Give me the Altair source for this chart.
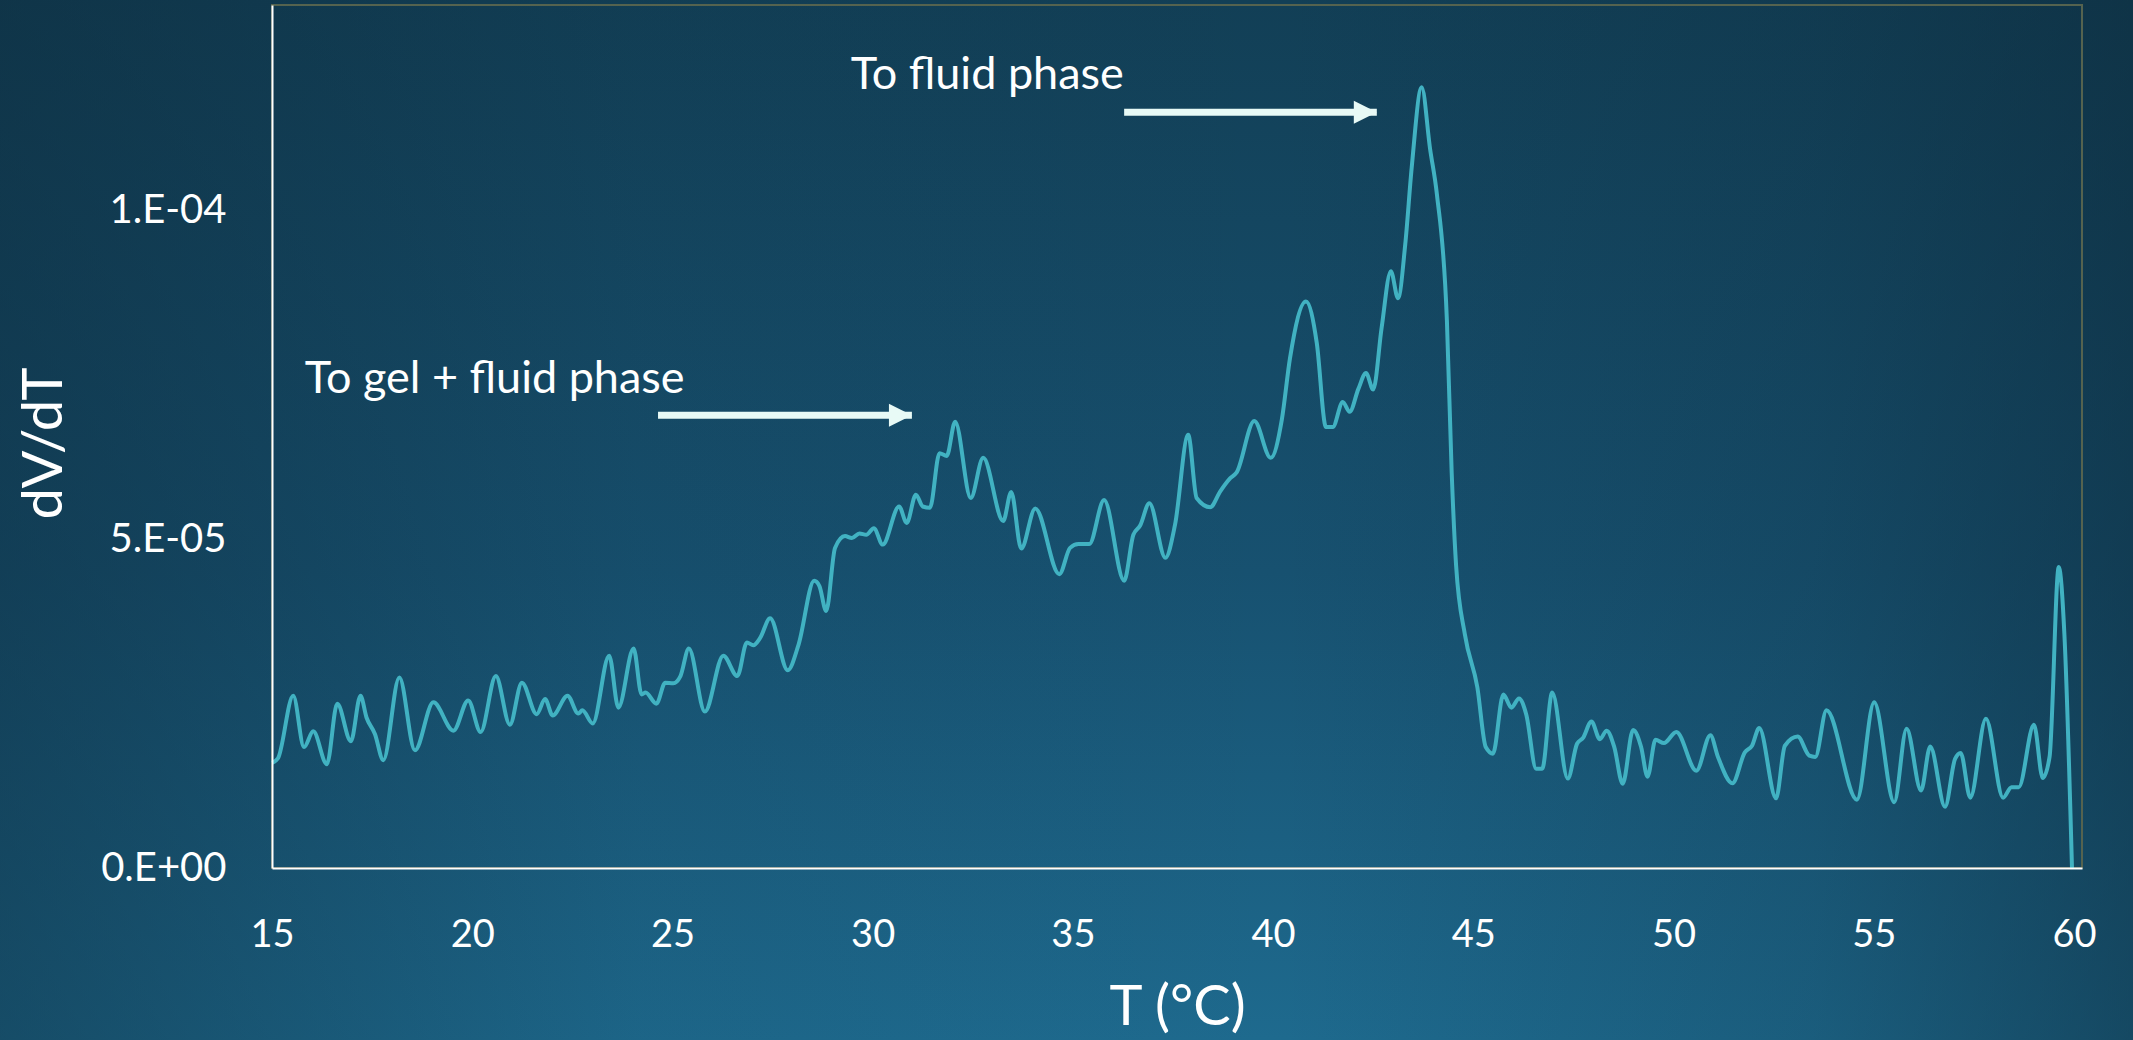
import altair as alt
import pandas as pd

# Temperature (°C) and dV/dT (in units of 1e-5)
temp_c = [
    15.0, 15.15, 15.53, 15.8, 16.03, 16.37, 16.63, 16.97, 17.21, 17.36, 17.57, 17.78,
    18.18, 18.57, 19.03, 19.53, 19.9, 20.21, 20.59, 20.94, 21.24, 21.61, 21.82, 22.01,
    22.38, 22.65, 22.75, 23.01, 23.42, 23.65, 24.03, 24.23, 24.33, 24.6, 24.82, 25.02,
    25.2, 25.41, 25.81, 26.27, 26.62, 26.86, 27.02, 27.19, 27.44, 27.88, 28.15, 28.54,
    28.67, 28.84, 29.06, 29.31, 29.48, 29.67, 29.84, 30.03, 30.25, 30.66, 30.85, 31.08,
    31.25, 31.43, 31.67, 31.85, 32.06, 32.45, 32.76, 33.26, 33.46, 33.71, 34.06, 34.66,
    34.93, 35.14, 35.41, 35.78, 36.28, 36.51, 36.68, 36.91, 37.31, 37.55, 37.88, 38.09,
    38.43, 38.68, 38.93, 39.09, 39.53, 39.94, 40.22, 40.42, 40.82, 41.09, 41.32, 41.49,
    41.74, 41.91, 42.13, 42.32, 42.5, 42.71, 42.94, 43.12, 43.3, 43.46, 43.71, 43.92,
    44.09, 44.34, 44.46, 44.57, 44.79, 45.1, 45.31, 45.49, 45.75, 45.95, 46.14, 46.32,
    46.57, 46.72, 46.97, 47.36, 47.59, 47.74, 47.95, 48.16, 48.33, 48.52, 48.73, 48.99,
    49.19, 49.35, 49.55, 49.76, 50.07, 50.57, 50.92, 51.11, 51.47, 51.78, 51.96, 52.14,
    52.56, 52.78, 53.1, 53.39, 53.54, 53.82, 54.58, 55.01, 55.51, 55.82, 56.18, 56.41,
    56.78, 57.03, 57.17, 57.41, 57.8, 58.23, 58.44, 58.62, 59.0, 59.22, 59.39, 59.62,
    59.76, 59.95,
]
dvdt_e5 = [
    1.60, 1.67, 2.62, 1.84, 2.08, 1.58, 2.50, 1.93, 2.62, 2.29, 2.04, 1.64,
    2.90, 1.79, 2.52, 2.09, 2.55, 2.07, 2.92, 2.18, 2.82, 2.34, 2.57, 2.32,
    2.62, 2.35, 2.40, 2.20, 3.23, 2.44, 3.34, 2.64, 2.67, 2.50, 2.82, 2.81,
    2.92, 3.34, 2.38, 3.23, 2.92, 3.43, 3.39, 3.50, 3.80, 3.01, 3.40, 4.37,
    4.29, 3.91, 4.87, 5.05, 5.02, 5.09, 5.07, 5.17, 4.92, 5.50, 5.25, 5.68,
    5.50, 5.48, 6.31, 6.27, 6.79, 5.63, 6.24, 5.28, 5.72, 4.86, 5.47, 4.47,
    4.87, 4.93, 4.93, 5.60, 4.37, 5.07, 5.21, 5.55, 4.72, 5.22, 6.59, 5.63,
    5.49, 5.73, 5.93, 6.02, 6.80, 6.24, 6.83, 7.75, 8.62, 7.99, 6.71, 6.71,
    7.09, 6.94, 7.29, 7.53, 7.28, 8.22, 9.08, 8.67, 9.49, 10.65, 11.88, 10.94,
    10.25, 8.33, 6.01, 4.60, 3.55, 2.75, 1.84, 1.74, 2.64, 2.44, 2.58, 2.34,
    1.51, 1.51, 2.67, 1.36, 1.89, 1.98, 2.23, 1.96, 2.09, 1.84, 1.28, 2.10,
    1.84, 1.39, 1.95, 1.90, 2.07, 1.48, 2.02, 1.69, 1.29, 1.76, 1.86, 2.13,
    1.06, 1.86, 2.00, 1.71, 1.69, 2.40, 1.04, 2.52, 1.00, 2.12, 1.18, 1.85,
    0.93, 1.66, 1.75, 1.07, 2.27, 1.07, 1.23, 1.23, 2.18, 1.37, 1.69, 4.58,
    3.56, 0.0,
]

x_ticks = [15, 20, 25, 30, 35, 40, 45, 50, 55, 60]
y_ticks = [0.0, 5e-5, 1e-4]

# Annotations: text label, text anchor, arrow start/end (T) and arrow height (dV/dT)
note_text = ["To gel + fluid phase", "To fluid phase"]
note_x = [15.82, 29.45]
note_y = [7.22e-5, 11.85e-5]
arrow_x0 = [24.64, 36.28]
arrow_x1 = [30.98, 42.59]
arrow_y = [6.89e-5, 11.50e-5]

W, H = 1810, 863
PAD = {"left": 272, "top": 5, "right": 51, "bottom": 172}

curve = pd.DataFrame({"T": temp_c, "dVdT": [v * 1e-5 for v in dvdt_e5]})
notes = pd.DataFrame({"label": note_text, "x": note_x, "y": note_y})
arrows = pd.DataFrame({"x0": arrow_x0, "x1": arrow_x1, "y": arrow_y})

x_scale = alt.Scale(domain=[15, 60.2], nice=False, zero=False)
y_scale = alt.Scale(domain=[0, 1.313e-4], nice=False)

FONT = "Lato"
WHITE = "#ffffff"
ARROW = "#e8faf6"

x_axis = alt.Axis(
    values=x_ticks, format="d", grid=False, ticks=False, zindex=2,
    labelFlush=False, labelOverlap=False,
    domainColor=WHITE, domainWidth=2, labelColor=WHITE, labelFont=FONT,
    labelFontSize=38, labelPadding=48,
    title="T (°C)", titleColor=WHITE, titleFont=FONT, titleFontSize=56,
    titleFontWeight="normal", titleX=905, titleY=139,
    titleAlign="center", titleBaseline="middle",
)
y_axis = alt.Axis(
    values=y_ticks, grid=False, ticks=False, zindex=2,
    labelFlush=False, labelOverlap=False,
    labelExpr="datum.value == 0 ? '0.E+00' : (datum.value < 0.00007 ? '5.E-05' : '1.E-04')",
    domainColor=WHITE, domainWidth=2, labelColor=WHITE, labelFont=FONT,
    labelFontSize=40, labelPadding=46,
    title="dV/dT", titleColor=WHITE, titleFont=FONT, titleFontSize=56,
    titleFontWeight="normal", titleAngle=270, titleX=-228, titleY=438,
    titleAlign="center", titleBaseline="middle",
)

one = pd.DataFrame({"k": [0]})

# Full-canvas backdrop: vertical shade plus darker side edges
backdrop = alt.Chart(one).mark_rect(
    fill=alt.LinearGradient(
        gradient="linear", x1=0, y1=0, x2=0, y2=1,
        stops=[
            alt.GradientStop(offset=0, color="#123f56"),
            alt.GradientStop(offset=0.55, color="#175170"),
            alt.GradientStop(offset=1, color="#1e6a8e"),
        ],
    )
).encode(
    x=alt.value(-PAD["left"]), x2=alt.value(W + PAD["right"]),
    y=alt.value(-PAD["top"]), y2=alt.value(H + PAD["bottom"]),
)
edges = alt.Chart(one).mark_rect(
    fill=alt.LinearGradient(
        gradient="linear", x1=0, y1=0, x2=1, y2=0,
        stops=[
            alt.GradientStop(offset=0, color="rgba(12,40,56,0.45)"),
            alt.GradientStop(offset=0.3, color="rgba(12,40,56,0.08)"),
            alt.GradientStop(offset=0.6, color="rgba(12,40,56,0.0)"),
            alt.GradientStop(offset=0.85, color="rgba(12,40,56,0.2)"),
            alt.GradientStop(offset=1, color="rgba(12,40,56,0.5)"),
        ],
    )
).encode(
    x=alt.value(-PAD["left"]), x2=alt.value(W + PAD["right"]),
    y=alt.value(-PAD["top"]), y2=alt.value(H + PAD["bottom"]),
)

# Thin frame around the plot area (top and right sides stay visible)
frame = alt.Chart(one).mark_rect(
    fill="transparent", stroke="#55634f", strokeWidth=2
).encode(
    x=alt.value(0), x2=alt.value(W), y=alt.value(0), y2=alt.value(H),
)

line = alt.Chart(curve).mark_line(
    color="#41b2c2", strokeWidth=4, interpolate="monotone"
).encode(
    x=alt.X("T:Q", scale=x_scale, axis=x_axis),
    y=alt.Y("dVdT:Q", scale=y_scale, axis=y_axis),
)

labels = alt.Chart(notes).mark_text(
    align="left", baseline="alphabetic", font=FONT, fontSize=45, color=WHITE
).encode(
    x=alt.X("x:Q", scale=x_scale),
    y=alt.Y("y:Q", scale=y_scale),
    text="label:N",
)

shafts = alt.Chart(arrows).mark_rule(
    color=ARROW, strokeWidth=7, strokeCap="butt"
).encode(
    x=alt.X("x0:Q", scale=x_scale),
    x2="x1:Q",
    y=alt.Y("y:Q", scale=y_scale),
)

heads = alt.Chart(arrows).mark_point(
    shape="M-2,-1L0,0L-2,1Z", filled=True, size=529, color=ARROW, opacity=1
).encode(
    x=alt.X("x1:Q", scale=x_scale),
    y=alt.Y("y:Q", scale=y_scale),
)

chart = alt.layer(backdrop, edges, frame, line, shafts, heads, labels).properties(
    width=W, height=H,
    autosize=alt.AutoSizeParams(type="none"),
    padding=PAD,
    background="#154660",
).configure_view(
    stroke=None,
)

chart.save("out.html", embed_options={"renderer": "svg", "actions": False})
